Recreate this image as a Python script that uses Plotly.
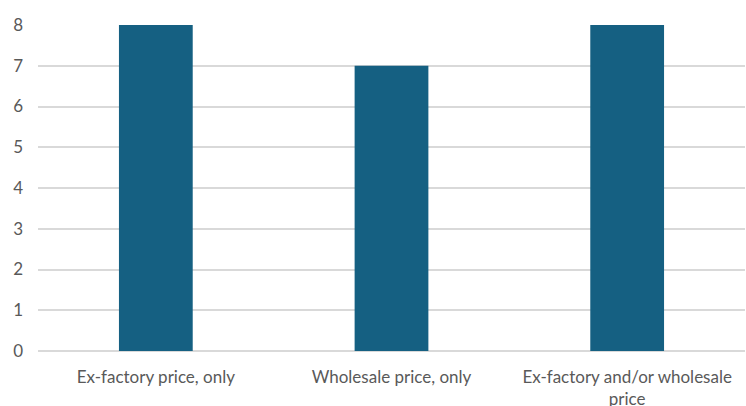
import plotly.graph_objects as go

categories = ["Ex-factory price, only", "Wholesale price, only", "Ex-factory and/or wholesale<br>price"]
values = [8, 7, 8]
y_ticks = [0, 1, 2, 3, 4, 5, 6, 7, 8]

fig = go.Figure(go.Bar(x=categories, y=values, marker=dict(color="#156082", line=dict(width=0)), width=0.313))

fig.update_layout(
    width=746, height=406,
    margin=dict(l=38, r=1, t=25, b=55),
    plot_bgcolor="white", paper_bgcolor="white",
    font=dict(family="Lato, Open Sans, sans-serif", size=17, color="#595959"),
    showlegend=False, bargap=0.687,
)
fig.update_xaxes(showgrid=False, showline=False, ticks="", automargin=False,
                 tickfont=dict(size=17, color="#595959"), ticklabelstandoff=14)
fig.update_yaxes(range=[0, 8], tickvals=y_ticks, showgrid=True, gridcolor="#d9d9d9", gridwidth=1.5,
                 zeroline=True, zerolinecolor="#d9d9d9", zerolinewidth=1.5, automargin=False,
                 tickfont=dict(size=17, color="#595959"), ticklabelstandoff=14)

fig.write_html("out.html")
